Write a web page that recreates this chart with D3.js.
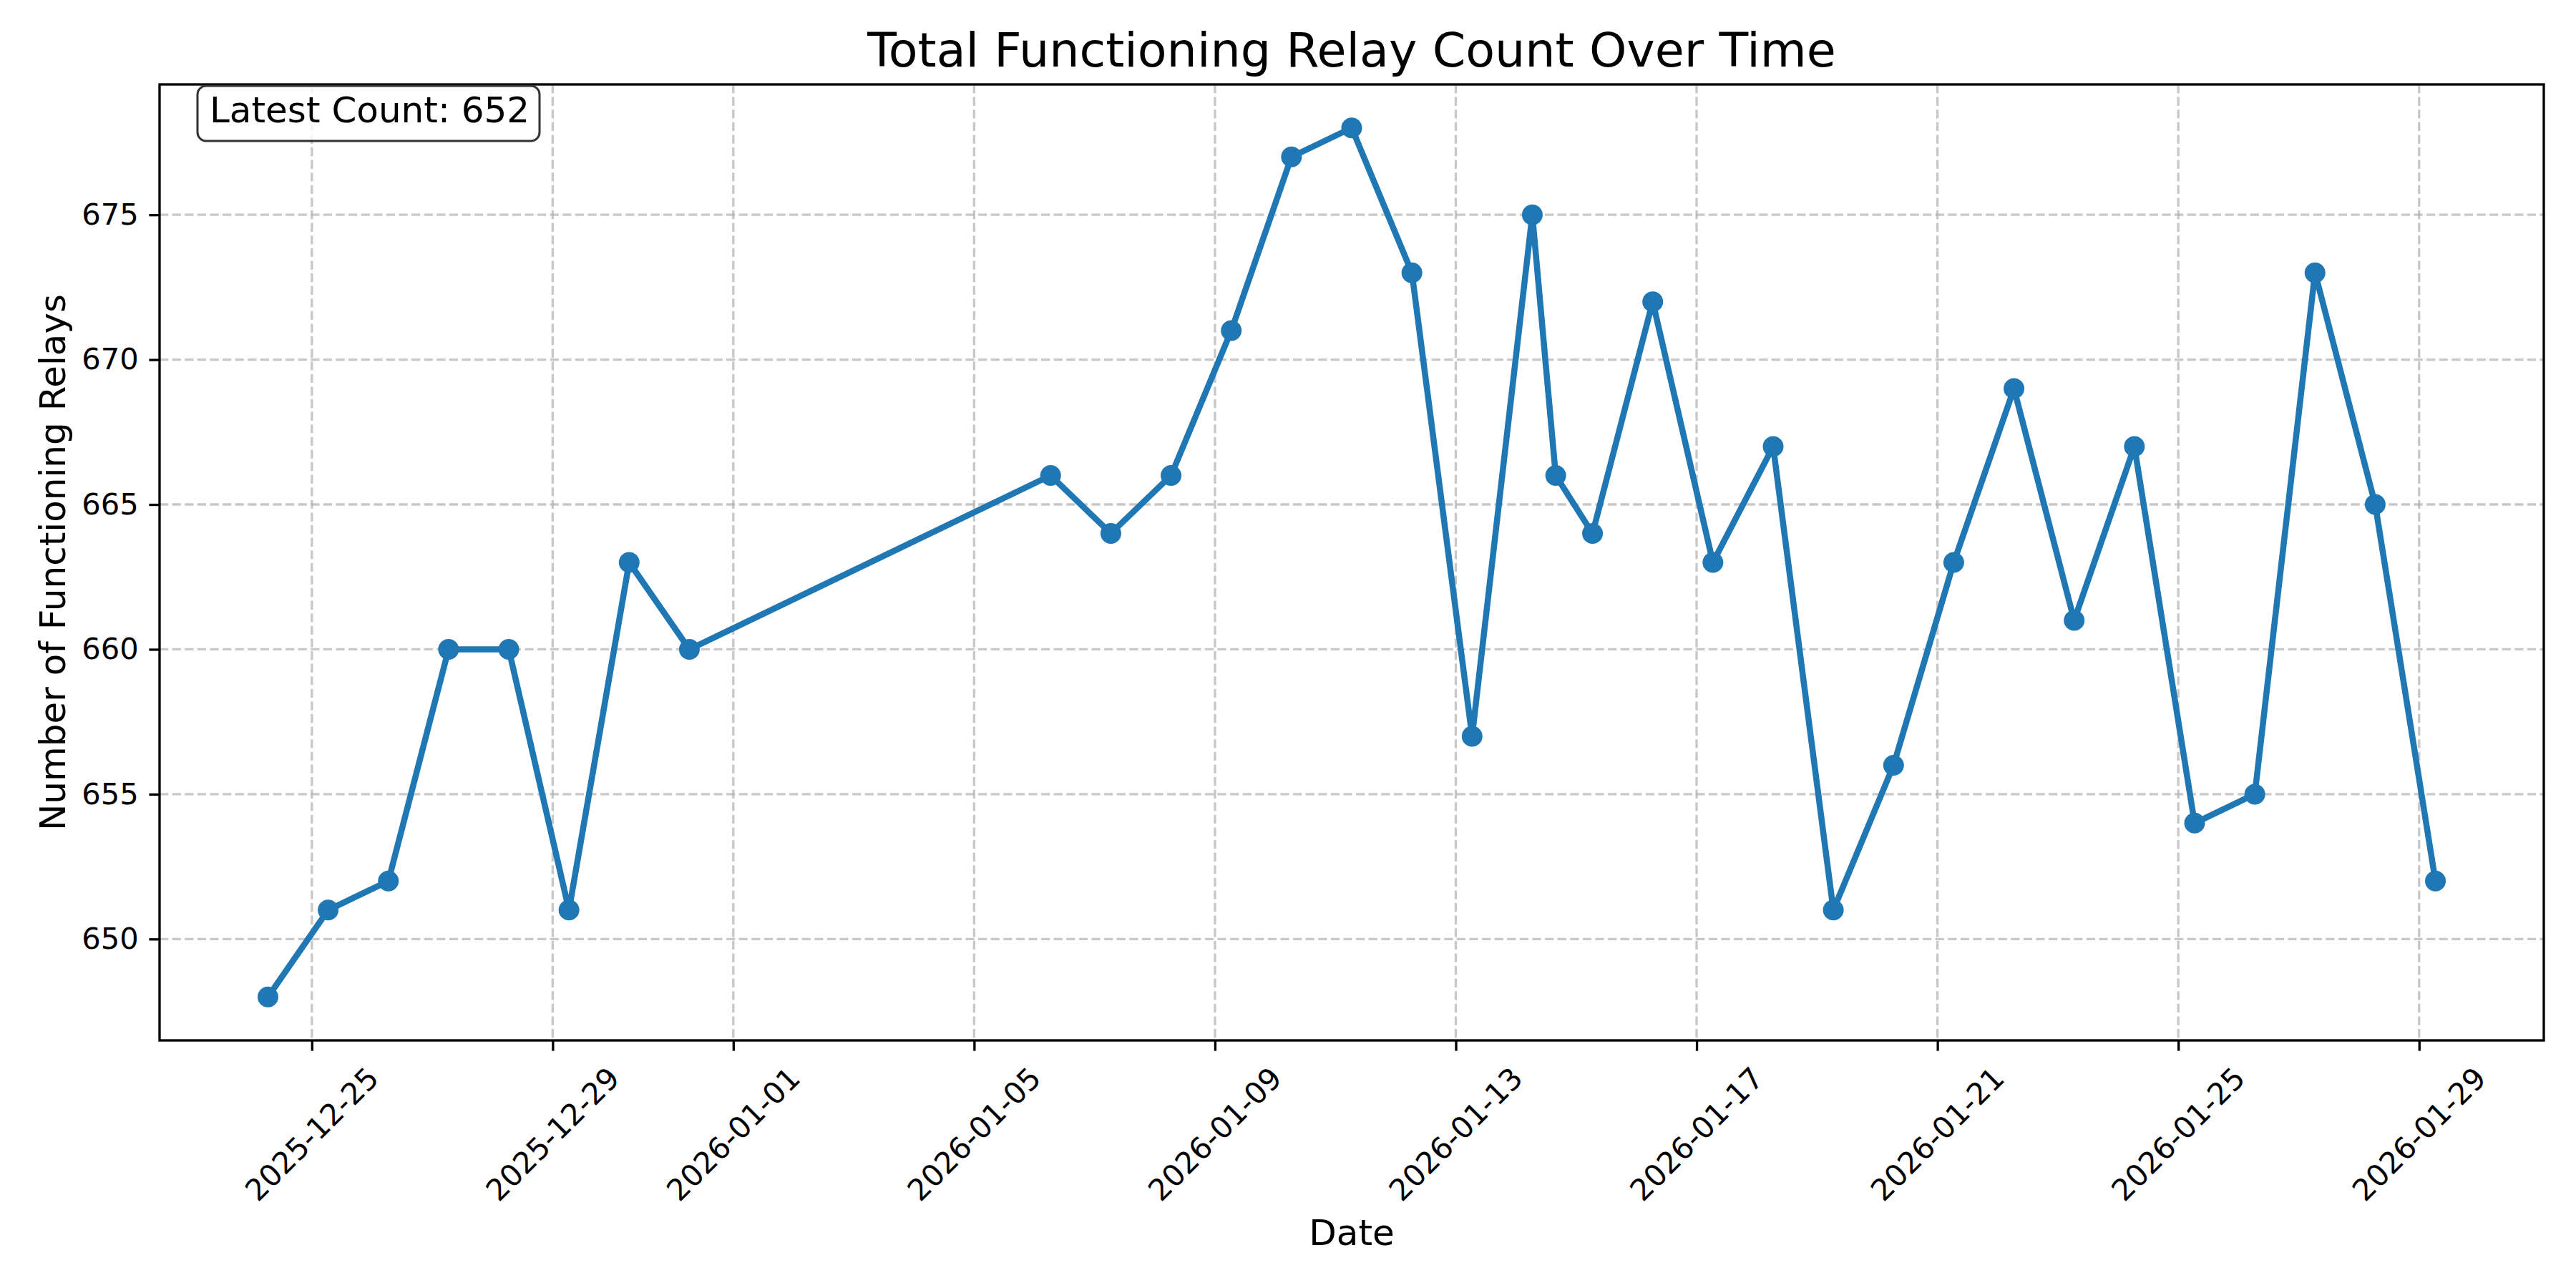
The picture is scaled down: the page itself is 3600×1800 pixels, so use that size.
<!DOCTYPE html>
<html>
<head>
<meta charset="utf-8">
<script src="https://cdn.jsdelivr.net/npm/d3@7"></script>
<style>
  body { margin: 0; background: #fff; }
  text { font-family: "DejaVu Sans", sans-serif; }
</style>
</head>
<body>
<svg id="chart" width="3600" height="1800"></svg>
<script>
// readings, one per day at ~06:30 UTC (plus one extra on 01-14)
const dates = [
  "2025-12-24T06:30", "2025-12-25T06:30", "2025-12-26T06:30", "2025-12-27T06:30",
  "2025-12-28T06:30", "2025-12-29T06:30", "2025-12-30T06:30", "2025-12-31T06:30",
  "2026-01-06T06:30", "2026-01-07T06:30", "2026-01-08T06:30", "2026-01-09T06:30",
  "2026-01-10T06:30", "2026-01-11T06:30", "2026-01-12T06:30", "2026-01-13T06:30",
  "2026-01-14T06:30", "2026-01-14T15:50", "2026-01-15T06:30", "2026-01-16T06:30",
  "2026-01-17T06:30", "2026-01-18T06:30", "2026-01-19T06:30", "2026-01-20T06:30",
  "2026-01-21T06:30", "2026-01-22T06:30", "2026-01-23T06:30", "2026-01-24T06:30",
  "2026-01-25T06:30", "2026-01-26T06:30", "2026-01-27T06:30", "2026-01-28T06:30",
  "2026-01-29T06:30"
];
const counts = [
  648, 651, 652, 660, 660, 651, 663, 660,
  666, 664, 666, 671, 677, 678, 673, 657,
  675, 666, 664, 672, 663, 667, 651, 656,
  663, 669, 661, 667, 654, 655, 673, 665,
  652
];
const xTickLabels = ["2025-12-25", "2025-12-29", "2026-01-01", "2026-01-05", "2026-01-09",
  "2026-01-13", "2026-01-17", "2026-01-21", "2026-01-25", "2026-01-29"];
const yTicks = [650, 655, 660, 665, 670, 675];

const parseT = d3.utcParse("%Y-%m-%dT%H:%M");
const parseD = d3.utcParse("%Y-%m-%d");
const pts = dates.map((d, i) => ({ t: parseT(d), v: counts[i] }));

const L = 223, R = 3555, T = 118, B = 1454;
const svg = d3.select("#chart");

// matplotlib style 5% margins
const tExt = d3.extent(pts, d => +d.t);
const tPad = (tExt[1] - tExt[0]) * 0.05;
const x = d3.scaleUtc().domain([new Date(tExt[0] - tPad), new Date(tExt[1] + tPad)]).range([L, R]);
const vExt = d3.extent(counts);
const vPad = (vExt[1] - vExt[0]) * 0.05;
const y = d3.scaleLinear().domain([vExt[0] - vPad, vExt[1] + vPad]).range([B, T]);

const tickDates = xTickLabels.map(parseD);

// grid
const grid = svg.append("g").attr("stroke", "#b0b0b0").attr("stroke-opacity", 0.7)
  .attr("stroke-width", 3.33).attr("stroke-dasharray", "12.3,5.3");
tickDates.forEach(d => {
  grid.append("line").attr("x1", x(d)).attr("x2", x(d)).attr("y1", T).attr("y2", B);
});
yTicks.forEach(v => {
  grid.append("line").attr("x1", L).attr("x2", R).attr("y1", y(v)).attr("y2", y(v));
});

// x axis
const xAxis = svg.append("g").attr("transform", `translate(0,${B})`)
  .call(d3.axisBottom(x).tickValues(tickDates).tickSize(14.6).tickFormat(""));
xAxis.select(".domain").remove();
xAxis.selectAll(".tick line").attr("stroke", "#000").attr("stroke-width", 3.33);
tickDates.forEach((d, i) => {
  svg.append("text")
    .attr("transform", `translate(${x(d)},1585) rotate(-45)`)
    .attr("text-anchor", "middle").attr("dominant-baseline", "central")
    .attr("font-size", 41.7).text(xTickLabels[i]);
});

// y axis
const yAxis = svg.append("g").attr("transform", `translate(${L},0)`)
  .call(d3.axisLeft(y).tickValues(yTicks).tickSize(14.6).tickPadding(14.6));
yAxis.select(".domain").remove();
yAxis.selectAll(".tick line").attr("stroke", "#000").attr("stroke-width", 3.33);
yAxis.selectAll(".tick text").attr("font-size", 41.7).attr("fill", "#000")
  .attr("font-family", "DejaVu Sans");

// series
const line = d3.line().x(d => x(d.t)).y(d => y(d.v));
svg.append("path").datum(pts).attr("d", line).attr("fill", "none")
  .attr("stroke", "#1f77b4").attr("stroke-width", 8.5).attr("stroke-linejoin", "round");
svg.append("g").selectAll("circle").data(pts).join("circle")
  .attr("cx", d => x(d.t)).attr("cy", d => y(d.v)).attr("r", 14.5).attr("fill", "#1f77b4");

// frame
svg.append("rect").attr("x", L).attr("y", T).attr("width", R - L).attr("height", B - T)
  .attr("fill", "none").attr("stroke", "#000").attr("stroke-width", 3.33);

// annotation box
const latest = counts[counts.length - 1];
svg.append("rect").attr("x", 276).attr("y", 120).attr("width", 478).attr("height", 77)
  .attr("rx", 12).attr("fill", "#fff").attr("fill-opacity", 0.8)
  .attr("stroke", "#333").attr("stroke-width", 3);
svg.append("text").attr("x", 293).attr("y", 171).attr("font-size", 50)
  .text("Latest Count: " + latest);

// titles
svg.append("text").attr("x", (L + R) / 2).attr("y", 93).attr("text-anchor", "middle")
  .attr("font-size", 66.7).text("Total Functioning Relay Count Over Time");
svg.append("text").attr("x", (L + R) / 2).attr("y", 1740).attr("text-anchor", "middle")
  .attr("font-size", 50).text("Date");
svg.append("text").attr("transform", `translate(91,${(T + B) / 2}) rotate(-90)`)
  .attr("text-anchor", "middle").attr("font-size", 50).text("Number of Functioning Relays");
</script>
</body>
</html>
